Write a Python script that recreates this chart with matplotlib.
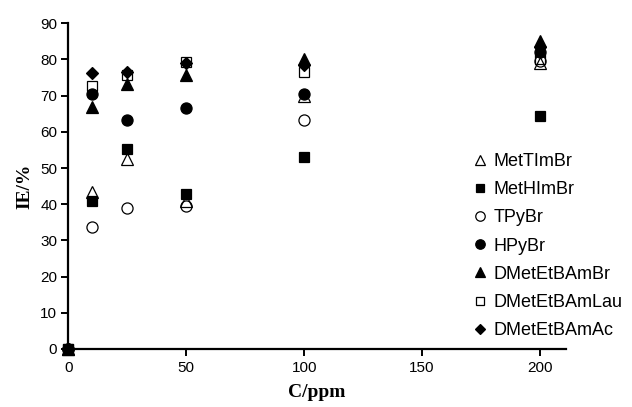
import numpy as np
import matplotlib
matplotlib.use("Agg")
import matplotlib.pyplot as plt

# concentrations (ppm)
conc = [0, 10, 25, 50, 100, 200]

# inhibition efficiency (%)
met_tim_br = [0, 43.5, 52.5, 41.0, 70.0, 79.0]
met_him_br = [0, 40.8, 55.2, 42.7, 53.0, 64.5]
tpy_br = [0, 33.8, 38.9, 39.5, 63.3, 79.5]
hpy_br = [0, 70.5, 63.2, 66.7, 70.4, 82.0]
dmet_br = [0, 67.0, 73.3, 75.8, 80.0, 85.0]
dmet_lau = [0, 72.8, 75.8, 79.2, 76.5, 80.2]
dmet_ac = [0, 76.2, 76.6, 79.0, 78.5, 83.5]

names = ["MetTImBr", "MetHImBr", "TPyBr", "HPyBr",
         "DMetEtBAmBr", "DMetEtBAmLau", "DMetEtBAmAc"]
series = [met_tim_br, met_him_br, tpy_br, hpy_br, dmet_br, dmet_lau, dmet_ac]
# marker, size, filled
styles = [("^", 8.5, False), ("s", 7.5, True), ("o", 8.0, False),
          ("o", 8.0, True), ("^", 8.5, True), ("s", 7.5, False),
          ("D", 6.3, True)]

plt.rcParams['font.family'] = ['Liberation Sans', 'DejaVu Sans']

fig = plt.figure(figsize=(6.32, 4.07), dpi=100)
ax = fig.add_axes([68.3 / 632, 1 - 349 / 407, (566 - 68.3) / 632, (349 - 23.3) / 407])

for vals, name, (mk, ms, filled) in zip(series, names, styles):
    ax.plot(conc, vals, linestyle="none", marker=mk, markersize=ms,
            markerfacecolor="black" if filled else "none",
            markeredgecolor="black", markeredgewidth=0.9,
            label=name, clip_on=False)

ax.set_xlim(0, 211)
ax.set_ylim(0, 90)
ax.set_xticks([0, 50, 100, 150, 200])
ax.set_yticks(np.arange(0, 91, 10))
for s in ["top", "right"]:
    ax.spines[s].set_visible(False)
for s in ["left", "bottom"]:
    ax.spines[s].set_linewidth(1.6)
ax.tick_params(axis="both", direction="out", width=1.4, labelsize=11, colors="black")
ax.tick_params(axis="y", length=5, pad=3)
ax.tick_params(axis="x", length=5, pad=4)

ax.set_xlabel("C/ppm", family="Liberation Serif", fontweight="bold", fontsize=14, labelpad=6)
ax.set_ylabel("IE/%", family="Liberation Serif", fontweight="bold", fontsize=14, labelpad=5)

ax.legend(loc="upper left", bbox_to_anchor=(472 / 632, 1 - 153 / 407),
          bbox_transform=fig.transFigure, frameon=False, fontsize=13,
          handlelength=0.9, handletextpad=0.3, labelspacing=0.62,
          borderaxespad=0, borderpad=0, markerscale=0.85)

fig.savefig("out.png", dpi=100)
